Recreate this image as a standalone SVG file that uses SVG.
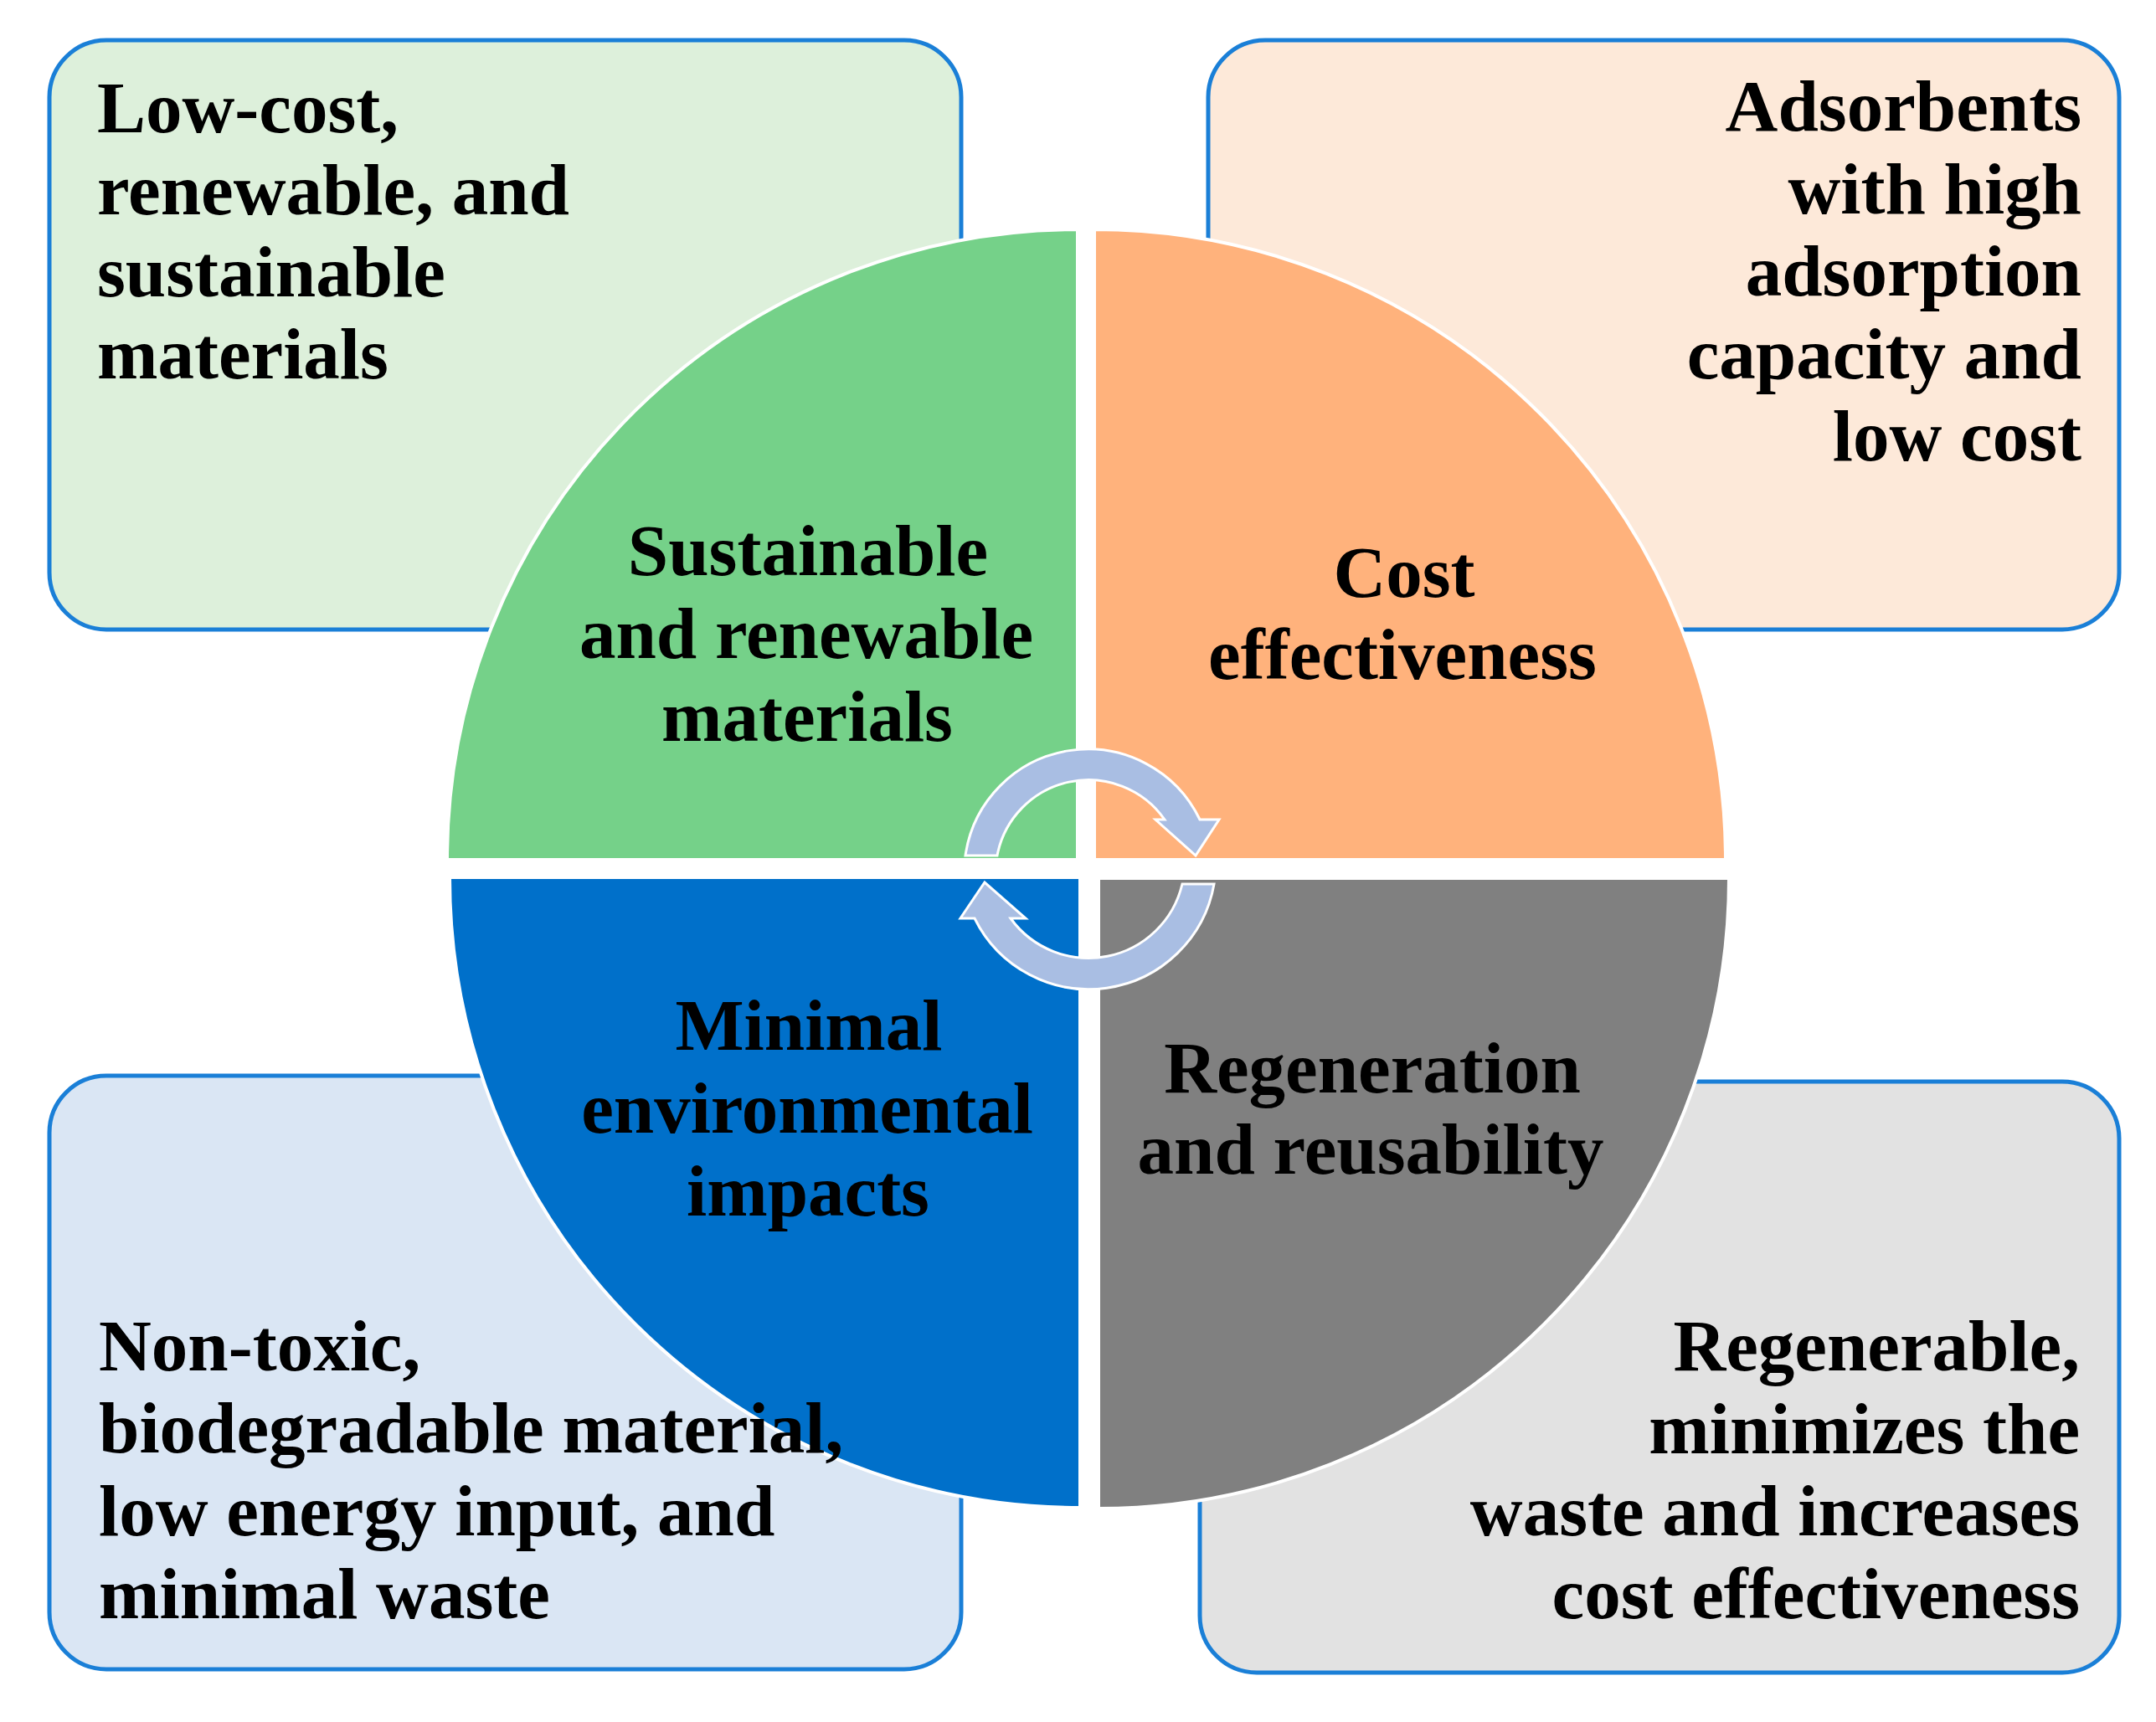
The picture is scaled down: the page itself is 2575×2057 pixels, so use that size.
<svg xmlns="http://www.w3.org/2000/svg" width="2575" height="2057" viewBox="0 0 2575 2057">
<style>
.box{stroke:#1A7FD7;stroke-width:5}
.quad{stroke:#FFFFFF;stroke-width:4}
.t{font-family:"Liberation Serif","Times New Roman",serif;font-weight:bold;font-size:87px;fill:#000}
.l{text-anchor:start}
.r{text-anchor:end}
.c{text-anchor:middle}
.arrow{fill:#A9BEE3;stroke:#FFFFFF;stroke-width:3;stroke-linejoin:miter}
</style>
<rect width="2575" height="2057" fill="#FFFFFF"/>
<g id="box-tl"><rect class="box" x="59" y="48" width="1089" height="704" rx="68" fill="#DDF0DB"/></g>
<g id="box-tr"><rect class="box" x="1443" y="48" width="1088" height="704" rx="68" fill="#FDE9D9"/></g>
<g id="box-bl"><rect class="box" x="59" y="1285" width="1089" height="709" rx="68" fill="#DAE6F4"/></g>
<g id="box-br"><rect class="box" x="1433" y="1292" width="1098" height="706" rx="68" fill="#E2E2E2"/></g>
<g id="quad-green">
<path class="quad" d="M1287,1027 L534,1027 A753,753 0 0 1 1287,274 Z" fill="#75D189"/>
<text class="t c" x="965" y="687">Sustainable</text>
<text class="t c" x="963" y="786">and renewable</text>
<text class="t c" x="964" y="885">materials</text>
</g>
<g id="quad-orange">
<path class="quad" d="M1307,1027 L1307,274 A754,754 0 0 1 2061,1027 Z" fill="#FFB27C"/>
<text class="t c" x="1677" y="713">Cost</text>
<text class="t c" x="1675" y="811">effectiveness</text>
</g>
<g id="quad-blue">
<path class="quad" d="M1290,1048 L1290,1801 A753,753 0 0 1 537,1048 Z" fill="#0070CA"/>
<text class="t c" x="966" y="1254">Minimal</text>
<text class="t c" x="964" y="1353">environmental</text>
<text class="t c" x="965" y="1452">impacts</text>
</g>
<g id="quad-gray">
<path class="quad" d="M1312,1049 L2065,1049 A753,753 0 0 1 1312,1802 Z" fill="#808080"/>
<text class="t c" x="1639" y="1305">Regeneration</text>
<text class="t c" x="1637" y="1402">and reusability</text>
</g>
<g id="connectors">
<path class="arrow" d="M1153,1022 A148,148 0 0 1 1433,979 L1456,979 L1428,1022 L1380,979 L1391,979 A111,111 0 0 0 1191,1022 Z"/>
<path class="arrow" d="M1412,1056 L1450,1056 A152,152 0 0 1 1164,1097 L1147,1097 L1176,1054 L1225,1097 L1207,1097 A115,115 0 0 0 1412,1056 Z"/>
</g>
<g id="box-tl-text">
<text class="t l" x="116" y="158">Low-cost,</text>
<text class="t l" x="116" y="256">renewable, and</text>
<text class="t l" x="116" y="354">sustainable</text>
<text class="t l" x="116" y="452">materials</text>
</g>
<g id="box-tr-text">
<text class="t r" x="2486" y="156">Adsorbents</text>
<text class="t r" x="2486" y="255">with high</text>
<text class="t r" x="2486" y="353">adsorption</text>
<text class="t r" x="2486" y="452">capacity and</text>
<text class="t r" x="2486" y="550">low cost</text>
</g>
<g id="box-bl-text">
<text class="t l" x="118" y="1637">Non-toxic,</text>
<text class="t l" x="118" y="1735">biodegradable material,</text>
<text class="t l" x="118" y="1834">low energy input, and</text>
<text class="t l" x="118" y="1933">minimal waste</text>
</g>
<g id="box-br-text">
<text class="t r" x="2484" y="1637">Regenerable,</text>
<text class="t r" x="2484" y="1736">minimizes the</text>
<text class="t r" x="2484" y="1834">waste and increases</text>
<text class="t r" x="2484" y="1933">cost effectiveness</text>
</g>
</svg>
